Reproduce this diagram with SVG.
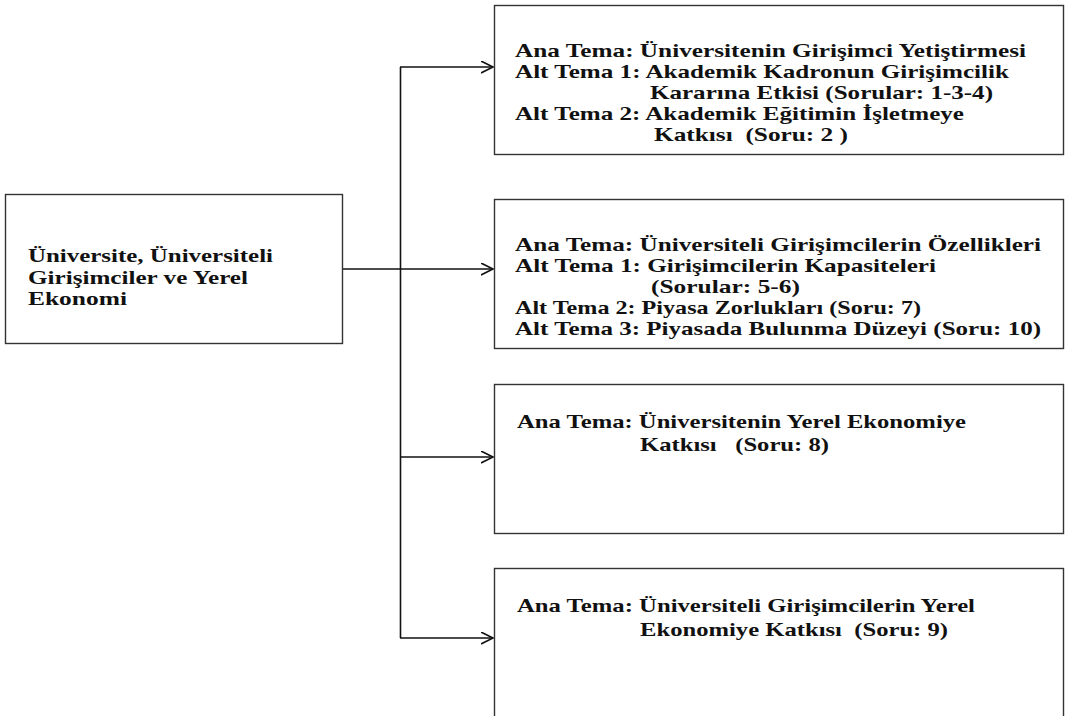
<svg xmlns="http://www.w3.org/2000/svg" width="1068" height="716" viewBox="0 0 1068 716">
<style>
.box{fill:#fff;stroke:#333;stroke-width:1.4}
.t{font-family:"Liberation Serif","Times New Roman",serif;font-weight:bold;font-size:19px;fill:#111;white-space:pre}
.c{fill:none;stroke:#111;stroke-width:1.6}
</style>
<defs>
<marker id="ah" markerWidth="14" markerHeight="14" refX="12" refY="6" orient="auto" markerUnits="userSpaceOnUse">
<path d="M0,0 L12,6 L0,12" fill="none" stroke="#111" stroke-width="1.6"/>
</marker>
</defs>
<rect width="1068" height="716" fill="#fff"/>
<g id="connectors">
<path class="c" d="M343,269 H493" marker-end="url(#ah)"/>
<path class="c" d="M400.5,67 V638"/>
<path class="c" d="M400,67 H493" marker-end="url(#ah)"/>
<path class="c" d="M400,457 H493" marker-end="url(#ah)"/>
<path class="c" d="M400,638 H493" marker-end="url(#ah)"/>
</g>
<g id="root">
<rect class="box" x="5.5" y="194.5" width="337" height="149"/>
<text class="t" x="28" y="262" textLength="245" lengthAdjust="spacingAndGlyphs">Üniversite, Üniversiteli</text>
<text class="t" x="28" y="284" textLength="220" lengthAdjust="spacingAndGlyphs">Girişimciler ve Yerel</text>
<text class="t" x="28" y="305" textLength="99" lengthAdjust="spacingAndGlyphs">Ekonomi</text>
</g>
<g id="theme1">
<rect class="box" x="494.5" y="5.5" width="569" height="149"/>
<text class="t" x="515" y="57" textLength="511" lengthAdjust="spacingAndGlyphs">Ana Tema: Üniversitenin Girişimci Yetiştirmesi</text>
<text class="t" x="515" y="78" textLength="494" lengthAdjust="spacingAndGlyphs">Alt Tema 1: Akademik Kadronun Girişimcilik</text>
<text class="t" x="650" y="99" textLength="343" lengthAdjust="spacingAndGlyphs">Kararına Etkisi (Sorular: 1-3-4)</text>
<text class="t" x="515" y="120" textLength="449" lengthAdjust="spacingAndGlyphs">Alt Tema 2: Akademik Eğitimin İşletmeye</text>
<text class="t" x="654" y="141" textLength="194" lengthAdjust="spacingAndGlyphs">Katkısı  (Soru: 2 )</text>
</g>
<g id="theme2">
<rect class="box" x="494.5" y="199.5" width="569" height="149"/>
<text class="t" x="515" y="251" textLength="526" lengthAdjust="spacingAndGlyphs">Ana Tema: Üniversiteli Girişimcilerin Özellikleri</text>
<text class="t" x="515" y="272" textLength="421" lengthAdjust="spacingAndGlyphs">Alt Tema 1: Girişimcilerin Kapasiteleri</text>
<text class="t" x="651" y="293" textLength="149" lengthAdjust="spacingAndGlyphs">(Sorular: 5-6)</text>
<text class="t" x="515" y="314" textLength="406" lengthAdjust="spacingAndGlyphs">Alt Tema 2: Piyasa Zorlukları (Soru: 7)</text>
<text class="t" x="515" y="335" textLength="526" lengthAdjust="spacingAndGlyphs">Alt Tema 3: Piyasada Bulunma Düzeyi (Soru: 10)</text>
</g>
<g id="theme3">
<rect class="box" x="494.5" y="384.5" width="569" height="149"/>
<text class="t" x="517" y="428" textLength="449" lengthAdjust="spacingAndGlyphs">Ana Tema: Üniversitenin Yerel Ekonomiye</text>
<text class="t" x="640" y="451" textLength="189" lengthAdjust="spacingAndGlyphs">Katkısı   (Soru: 8)</text>
</g>
<g id="theme4">
<rect class="box" x="494.5" y="568.5" width="569" height="160"/>
<text class="t" x="517" y="612" textLength="458" lengthAdjust="spacingAndGlyphs">Ana Tema: Üniversiteli Girişimcilerin Yerel</text>
<text class="t" x="640" y="636" textLength="308" lengthAdjust="spacingAndGlyphs">Ekonomiye Katkısı  (Soru: 9)</text>
</g>
</svg>
